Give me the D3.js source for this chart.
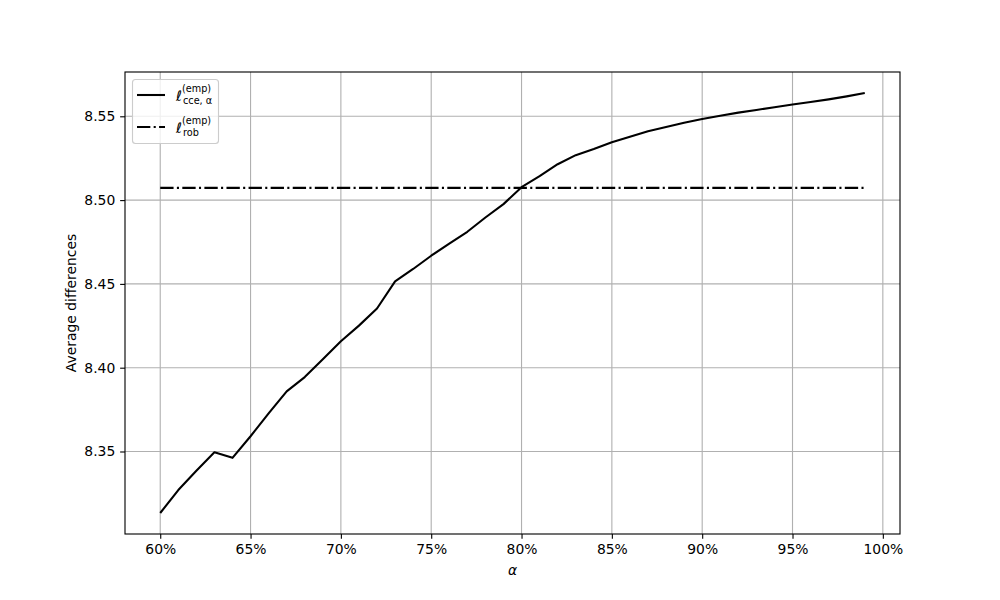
<!DOCTYPE html>
<html><head><meta charset="utf-8">
<script src="https://cdn.jsdelivr.net/npm/d3@7"></script>
<style>body{margin:0;background:#fff}svg{font-family:"DejaVu Sans",sans-serif}</style>
</head><body>
<svg id="c" width="1000" height="600"></svg>
<script>
const alphas = d3.range(60, 100); // 60%..99%
const cceValues = [8.3133,8.3270,8.3385,8.3495,8.3462,8.3591,8.3728,8.3859,8.3944,8.4051,
  8.4158,8.4251,8.4353,8.4515,8.4589,8.4668,8.4740,8.4811,8.4896,8.4976,
  8.5077,8.5143,8.5214,8.5268,8.5305,8.5345,8.5378,8.5411,8.5436,8.5462,
  8.5484,8.5503,8.5522,8.5538,8.5554,8.5570,8.5585,8.5601,8.5619,8.5639];
const robValue = 8.5073;
const xTicks = [60,65,70,75,80,85,90,95,100];
const yTicks = [8.35,8.40,8.45,8.50,8.55];

const svg = d3.select("#c");
const L=125,R=900,T=72,B=534;
const pt=100/72;
const DASH=[6.4,1.6,1,1.6].map(v=>v*1.5*pt).join(",");
const x0=d3.min(alphas), x1=d3.max(alphas), xm=(x1-x0)*0.05;
const yMin=d3.min(cceValues.concat([robValue])), yMax=d3.max(cceValues.concat([robValue])), ym=(yMax-yMin)*0.05;
const x=d3.scaleLinear().domain([x0-xm,x1+xm]).range([L,R]);
const y=d3.scaleLinear().domain([yMin-ym,yMax+ym]).range([B,T]);

// grid
const g=svg.append("g");
g.selectAll(".gx").data(xTicks).join("line").attr("x1",d=>x(d)).attr("x2",d=>x(d)).attr("y1",T).attr("y2",B)
 .attr("stroke","#b0b0b0").attr("stroke-width",0.8*pt);
g.selectAll(".gy").data(yTicks).join("line").attr("y1",d=>y(d)).attr("y2",d=>y(d)).attr("x1",L).attr("x2",R)
 .attr("stroke","#b0b0b0").attr("stroke-width",0.8*pt);

// lines
const line=d3.line().x((d,i)=>x(alphas[i])).y(d=>y(d));
svg.append("path").datum(cceValues).attr("d",line).attr("fill","none").attr("stroke","#000").attr("stroke-width",1.5*pt).attr("stroke-linejoin","round");
svg.append("path").datum(alphas.map(()=>robValue)).attr("d",line).attr("fill","none").attr("stroke","#000").attr("stroke-width",1.5*pt)
 .attr("stroke-dasharray",DASH);

// axes
const xa=svg.append("g").attr("transform",`translate(0,${B})`).call(d3.axisBottom(x).tickValues(xTicks).tickFormat(d=>d+"%").tickSizeOuter(0).tickSize(3.5*pt).tickPadding(3.5*pt));
const ya=svg.append("g").attr("transform",`translate(${L},0)`).call(d3.axisLeft(y).tickValues(yTicks).tickFormat(d3.format(".2f")).tickSizeOuter(0).tickSize(3.5*pt).tickPadding(3.5*pt));
[xa,ya].forEach(a=>{a.select(".domain").remove();a.selectAll("line").attr("stroke-width",0.8*pt);
 a.selectAll("text").attr("font-size","13.9px").attr("font-family","DejaVu Sans").attr("fill","#000");});
svg.append("rect").attr("x",L).attr("y",T).attr("width",R-L).attr("height",B-T).attr("fill","none").attr("stroke","#000").attr("stroke-width",0.8*pt);

svg.append("text").attr("x",(L+R)/2).attr("y",575).attr("text-anchor","middle").attr("font-size","13.9px").attr("font-style","italic").text("α");
svg.append("text").attr("transform",`translate(76,${(T+B)/2}) rotate(-90)`).attr("text-anchor","middle").attr("font-size","13.9px").text("Average differences");

// legend
const lg=svg.append("g");
lg.append("rect").attr("x",132.5).attr("y",79.5).attr("width",86).attr("height",64).attr("rx",3).attr("fill","#fff").attr("fill-opacity",0.8).attr("stroke","#ccc").attr("stroke-width",0.8*pt);
const entries=[{sub:"cce, α",dash:null,yy:95},{sub:"rob",dash:DASH,yy:127}];
entries.forEach(e=>{
  lg.append("line").attr("x1",137).attr("x2",165).attr("y1",e.yy).attr("y2",e.yy).attr("stroke","#000").attr("stroke-width",1.5*pt).attr("stroke-dasharray",e.dash);
  const t=lg.append("text").attr("x",176).attr("y",e.yy+6).attr("font-size","14.5px");
  t.append("tspan").attr("font-style","italic").text("ℓ");
  t.append("tspan").attr("font-size","9.7px").attr("dy",-9).text("(emp)");
  lg.append("text").attr("x",183).attr("y",e.yy+9).attr("font-size","9.7px").text(e.sub);
});
</script>
</body></html>
